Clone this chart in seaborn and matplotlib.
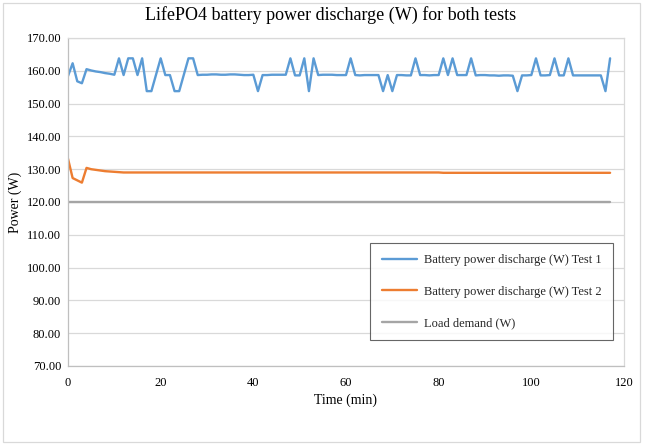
import pandas as pd
import matplotlib
matplotlib.use("Agg")
import matplotlib.pyplot as plt
import seaborn as sns
from matplotlib.patches import Rectangle
from matplotlib.ticker import FormatStrFormatter

# Time axis, one sample per minute
minutes = list(range(118))

test1_power = [
    158.4, 162.3, 156.8, 156.2, 160.5, 160.1, 159.8, 159.6, 159.3, 159.1,
    158.8, 163.8, 158.7, 163.8, 163.8, 158.7, 163.8, 153.8, 153.8, 158.8,
    163.8, 158.7, 158.7, 153.8, 153.8, 158.8, 163.8, 163.8, 158.7, 158.8,
    158.8, 158.9, 158.9, 158.8, 158.8, 158.9, 158.9, 158.8, 158.7, 158.7,
    158.8, 153.8, 158.7, 158.7, 158.8, 158.8, 158.8, 158.8, 163.8, 158.6,
    158.6, 163.8, 153.8, 163.8, 158.7, 158.8, 158.8, 158.8, 158.7, 158.7,
    158.7, 163.8, 158.7, 158.6, 158.7, 158.7, 158.7, 158.7, 153.8, 158.7,
    153.8, 158.7, 158.7, 158.6, 158.6, 163.8, 158.7, 158.7, 158.6, 158.7,
    158.7, 163.8, 158.7, 163.8, 158.7, 158.7, 158.7, 163.8, 158.6, 158.7,
    158.7, 158.6, 158.6, 158.5, 158.6, 158.6, 158.5, 153.8, 158.6, 158.6,
    158.7, 163.8, 158.6, 158.6, 158.7, 163.8, 158.6, 158.6, 163.8, 158.6,
    158.6, 158.6, 158.6, 158.6, 158.6, 158.6, 153.8, 163.8,
]

test2_power = [
    133.2, 127.3, 126.6, 125.9, 130.4, 130.0, 129.8, 129.6, 129.4, 129.3,
    129.2, 129.1, 129.0, 129.0, 129.0, 129.0, 129.0, 129.0, 129.0, 129.0,
    129.0, 129.0, 129.0, 129.0, 129.0, 129.0, 129.0, 129.0, 129.0, 129.0,
    129.0, 129.0, 129.0, 129.0, 129.0, 129.0, 129.0, 129.0, 129.0, 129.0,
    129.0, 129.0, 129.0, 129.0, 129.0, 129.0, 129.0, 129.0, 129.0, 129.0,
    129.0, 129.0, 129.0, 129.0, 129.0, 129.0, 129.0, 129.0, 129.0, 129.0,
    129.0, 129.0, 129.0, 129.0, 129.0, 129.0, 129.0, 129.0, 129.0, 129.0,
    129.0, 129.0, 129.0, 129.0, 129.0, 129.0, 129.0, 129.0, 129.0, 129.0,
    129.0, 128.9, 128.9, 128.9, 128.9, 128.9, 128.9, 128.9, 128.9, 128.9,
    128.9, 128.9, 128.9, 128.9, 128.9, 128.9, 128.9, 128.9, 128.9, 128.9,
    128.9, 128.9, 128.9, 128.9, 128.9, 128.9, 128.9, 128.9, 128.9, 128.9,
    128.9, 128.9, 128.9, 128.9, 128.9, 128.9, 128.9, 128.9,
]

load_demand = [
    120.0, 120.0, 120.0, 120.0, 120.0, 120.0, 120.0, 120.0, 120.0, 120.0,
    120.0, 120.0, 120.0, 120.0, 120.0, 120.0, 120.0, 120.0, 120.0, 120.0,
    120.0, 120.0, 120.0, 120.0, 120.0, 120.0, 120.0, 120.0, 120.0, 120.0,
    120.0, 120.0, 120.0, 120.0, 120.0, 120.0, 120.0, 120.0, 120.0, 120.0,
    120.0, 120.0, 120.0, 120.0, 120.0, 120.0, 120.0, 120.0, 120.0, 120.0,
    120.0, 120.0, 120.0, 120.0, 120.0, 120.0, 120.0, 120.0, 120.0, 120.0,
    120.0, 120.0, 120.0, 120.0, 120.0, 120.0, 120.0, 120.0, 120.0, 120.0,
    120.0, 120.0, 120.0, 120.0, 120.0, 120.0, 120.0, 120.0, 120.0, 120.0,
    120.0, 120.0, 120.0, 120.0, 120.0, 120.0, 120.0, 120.0, 120.0, 120.0,
    120.0, 120.0, 120.0, 120.0, 120.0, 120.0, 120.0, 120.0, 120.0, 120.0,
    120.0, 120.0, 120.0, 120.0, 120.0, 120.0, 120.0, 120.0, 120.0, 120.0,
    120.0, 120.0, 120.0, 120.0, 120.0, 120.0, 120.0, 120.0,
]

series_names = [
    "Battery power discharge (W) Test 1",
    "Battery power discharge (W) Test 2",
    "Load demand (W)",
]
series_colors = ["#5B9BD5", "#ED7D31", "#A5A5A5"]

df = pd.concat([
    pd.DataFrame({"time": minutes, "power": vals, "series": name})
    for name, vals in zip(series_names, [test1_power, test2_power, load_demand])
], ignore_index=True)

sns.set_theme(style="white")
plt.rcParams["font.family"] = ["Liberation Serif", "DejaVu Serif"]

fig = plt.figure(figsize=(6.46, 4.45), dpi=100)
ax = fig.add_axes([68 / 646, 1 - 366 / 445, 556 / 646, 328 / 445])

sns.lineplot(data=df, x="time", y="power", hue="series",
             palette=dict(zip(series_names, series_colors)),
             linewidth=1.7, ax=ax)

ax.set_xlim(0, 120)
ax.set_ylim(70, 170)
ax.set_xticks(range(0, 121, 20))
ax.set_yticks(range(70, 171, 10))
ax.yaxis.set_major_formatter(FormatStrFormatter("%.2f"))
ax.tick_params(axis="both", labelsize=9, colors="black", length=0)
ax.tick_params(axis="x", pad=8)
ax.tick_params(axis="y", pad=5)
ax.grid(axis="y", color="#D9D9D9", linewidth=0.9)
ax.set_axisbelow(True)
for side in ["left", "bottom", "top", "right"]:
    ax.spines[side].set_color("#D9D9D9")
    ax.spines[side].set_linewidth(0.9)
ax.spines["left"].set_color("#BFBFBF")
ax.spines["bottom"].set_color("#BFBFBF")

ax.set_xlabel("Time (min)", fontsize=10, color="black", labelpad=3)
ax.set_ylabel("Power (W)", fontsize=10, color="black", labelpad=3)

leg = ax.legend(loc="upper right", bbox_to_anchor=(0.98, 0.375), fontsize=9,
                frameon=True, fancybox=False, edgecolor="#404040",
                labelspacing=1.55, handlelength=2.8, handletextpad=0.6,
                borderpad=0.9, borderaxespad=0)
leg.get_frame().set_linewidth(0.8)

fig.text(331 / 646, 1 - 15 / 445, "LifePO4 battery power discharge (W) for both tests",
         ha="center", va="center", fontsize=13, color="black")

# outer chart border
fig.patches.append(Rectangle((3 / 646, 3 / 445), 637 / 646, 439 / 445,
                             transform=fig.transFigure, fill=False,
                             edgecolor="#D9D9D9", linewidth=0.9))

fig.savefig("out.png", dpi=100)
